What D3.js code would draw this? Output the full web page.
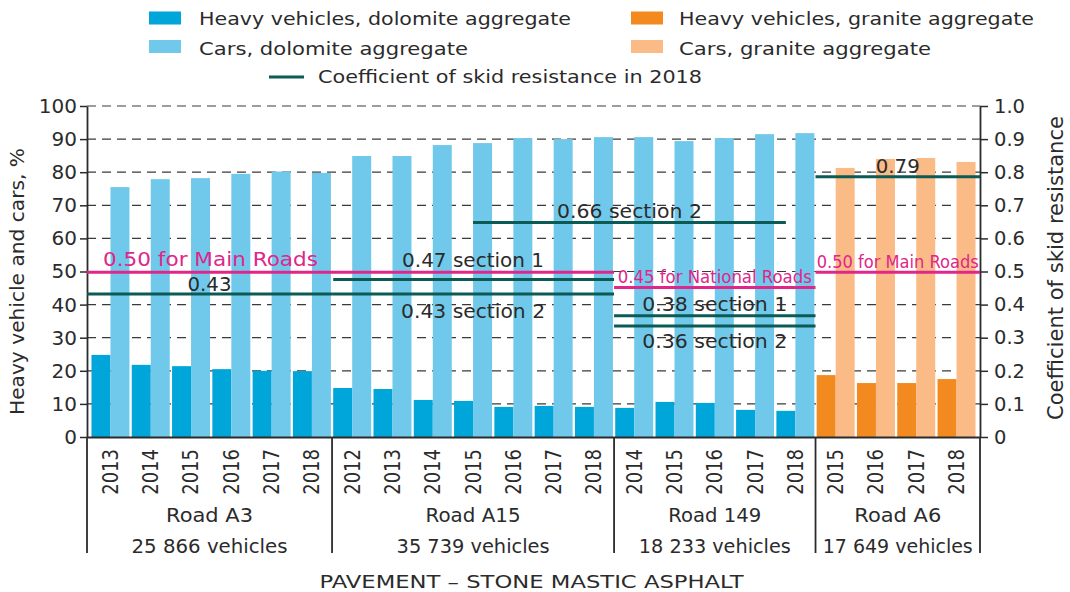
<!DOCTYPE html>
<html><head><meta charset="utf-8">
<script src="https://cdn.jsdelivr.net/npm/d3@7"></script>
<style>
body{margin:0;background:#fff}
svg{display:block}
text{font-family:"DejaVu Sans",sans-serif;fill:#2b2b2b}
text.cond{font-family:"DejaVu Sans Condensed","DejaVu Sans",sans-serif;font-stretch:condensed}
</style>
</head><body>
<svg id="c" width="1070" height="592"></svg>
<script>
// ---------------- data ----------------
const roads = ["Road A3", "Road A15", "Road 149", "Road A6"];
const roadVehicles = ["25 866 vehicles", "35 739 vehicles", "18 233 vehicles", "17 649 vehicles"];
const roadAggregate = ["dolomite", "dolomite", "dolomite", "granite"];
const roadYears = [
  [2013, 2014, 2015, 2016, 2017, 2018],
  [2012, 2013, 2014, 2015, 2016, 2017, 2018],
  [2014, 2015, 2016, 2017, 2018],
  [2015, 2016, 2017, 2018]
];
const heavyShare = [
  [24.8, 21.8, 21.4, 20.5, 20.0, 19.9],
  [14.8, 14.5, 11.2, 10.9, 9.1, 9.4, 9.1],
  [8.8, 10.6, 10.3, 8.2, 7.9],
  [18.7, 16.3, 16.3, 17.5]
];
const carShare = [
  [75.5, 77.9, 78.2, 79.5, 80.2, 79.8],
  [84.9, 84.9, 88.2, 88.8, 90.3, 90.0, 90.6],
  [90.6, 89.4, 90.3, 91.5, 91.8],
  [81.3, 84.0, 84.3, 83.1]
];
const leftTicks = [0, 10, 20, 30, 40, 50, 60, 70, 80, 90, 100];
const rightTicks = [0, 0.1, 0.2, 0.3, 0.4, 0.5, 0.6, 0.7, 0.8, 0.9, 1.0];
const skidLines = [
  {label: "0.43", value: 0.432, from: "Road A3", to: "Road A3"},
  {label: "0.43 section 2", value: 0.432, from: "Road A15", to: "Road A15"},
  {label: "0.47 section 1", value: 0.476, from: "Road A15 2012", fromAt: 0, to: "Road A15"},
  {label: "0.66 section 2", value: 0.648, from: "Road A15 2015", fromAt: 0.5, to: "Road 149 2018", toAt: 0.25},
  {label: "0.38 section 1", value: 0.366, from: "Road 149", to: "Road 149"},
  {label: "0.36 section 2", value: 0.335, from: "Road 149", to: "Road 149"},
  {label: "0.79", value: 0.786, from: "Road A6", to: "Road A6"}
];
const limitLines = [
  {label: "0.50 for Main Roads", value: 0.498, from: "Road A3", to: "Road A15"},
  {label: "0.45 for National Roads", value: 0.452, from: "Road 149", to: "Road 149"},
  {label: "0.50 for Main Roads", value: 0.498, from: "Road A6", to: "Road A6"}
];
const legendItems = [
  {label: "Heavy vehicles, dolomite aggregate", kind: "heavy", agg: "dolomite"},
  {label: "Cars, dolomite aggregate", kind: "cars", agg: "dolomite"},
  {label: "Heavy vehicles, granite aggregate", kind: "heavy", agg: "granite"},
  {label: "Cars, granite aggregate", kind: "cars", agg: "granite"},
  {label: "Coefficient of skid resistance in 2018", kind: "line"}
];
const yTitleLeft = "Heavy vehicle and cars, %";
const yTitleRight = "Coefficient of skid resistance";
const xTitle = "PAVEMENT – STONE MASTIC ASPHALT";

// ---------------- styles / layout ----------------
const colors = {
  dolomite: {heavy: "#00a5d9", cars: "#70c9ea"},
  granite: {heavy: "#f28a20", cars: "#fbbb86"},
  skid: "#0b5a54", limit: "#e0268a", ink: "#2b2b2b", grid: "#3a3a3a"
};
const skidLabelLayout = [
  {dy: -3, len: 44}, {dy: 24, len: 144}, {dy: -12, len: 142}, {dy: -5, len: 145},
  {dy: -5, len: 145}, {dy: 22, len: 145}, {dy: -4, len: 44}
];
const limitLabelLayout = [
  {anchor: "start", dx: 16, dy: -6.5, len: 215, size: 19.5, cls: ""},
  {anchor: "middle", dx: 0, dy: -4, len: 194, size: 18, cls: "cond"},
  {anchor: "middle", dx: 0, dy: -4.6, len: 162, size: 18, cls: "cond"}
];
const legendLayout = [
  {x: 149, y: 11.5, tx: 199, ty: 24.5, len: 372},
  {x: 149, y: 40, tx: 199, ty: 55, len: 269},
  {x: 631, y: 11.5, tx: 679, ty: 24.5, len: 355},
  {x: 631, y: 40, tx: 679, ty: 55, len: 252},
  {x: 269, y: 77, tx: 318, ty: 82.5, len: 384}
];
const roadLabelLen = [87, 95, 93, 87];
const vehicleLabelLen = [156, 153, 152, 150];

// ---------------- build ----------------
const rows = [];
roads.forEach((r, i) => roadYears[i].forEach((yr, j) => rows.push({
  road: r, ri: i, year: yr, key: r + " " + yr,
  heavy: heavyShare[i][j], cars: carShare[i][j], agg: roadAggregate[i]
})));
const byKey = new Map(rows.map(d => [d.key, d]));

const L = 87, R = 980, B = 437, T = 106;
const svg = d3.select("#c");
const x = d3.scaleBand().domain(rows.map(d => d.key)).range([L, R]).paddingInner(0.057).paddingOuter(0.111);
const y = d3.scaleLinear().domain([0, 100]).range([B, T]);
const yR = d3.scaleLinear().domain([0, 1]).range([B, T]);
const bw = x.bandwidth();
const gap = x.step() * x.paddingInner();

function regionEdge(road, side) {
  const ri = roads.indexOf(road);
  const ks = rows.filter(d => d.ri === ri).map(d => d.key);
  if (side === "left") return ri === 0 ? L : x(ks[0]) - gap / 2;
  return ri === roads.length - 1 ? R : x(ks[ks.length - 1]) + bw + gap / 2;
}
function spanX(key, at, side) {
  if (byKey.has(key)) return x(key) + (at || 0) * bw;
  return regionEdge(key, side);
}

// gridlines
svg.append("g").selectAll("line").data(leftTicks.filter(t => t > 0)).join("line")
  .attr("x1", L).attr("x2", R).attr("y1", d => y(d)).attr("y2", d => y(d))
  .attr("stroke", colors.grid).attr("stroke-width", 1.2).attr("stroke-dasharray", "9,6");

// bars
const g = svg.append("g").selectAll("g").data(rows).join("g");
g.append("rect").attr("x", d => x(d.key)).attr("width", bw / 2)
  .attr("y", d => y(d.heavy)).attr("height", d => y(0) - y(d.heavy))
  .attr("fill", d => colors[d.agg].heavy);
g.append("rect").attr("x", d => x(d.key) + bw / 2).attr("width", bw / 2)
  .attr("y", d => y(d.cars)).attr("height", d => y(0) - y(d.cars))
  .attr("fill", d => colors[d.agg].cars);

// axes
const axL = svg.append("g").attr("transform", `translate(${L},0)`)
  .call(d3.axisLeft(y).tickValues(leftTicks).tickSize(7).tickSizeOuter(0).tickPadding(3));
const axR = svg.append("g").attr("transform", `translate(${R},0)`)
  .call(d3.axisRight(yR).tickValues(rightTicks).tickSize(8).tickSizeOuter(0).tickPadding(6)
    .tickFormat(d => d === 0 ? "0" : d3.format(".1f")(d)));
const axB = svg.append("g").attr("transform", `translate(0,${B})`)
  .call(d3.axisBottom(x).tickSize(0).tickSizeOuter(0).tickFormat(k => byKey.get(k).year));
[axL, axR, axB].forEach(a => {
  a.select(".domain").attr("stroke", colors.ink).attr("stroke-width", 1.8);
  a.selectAll(".tick line").attr("stroke", colors.ink).attr("stroke-width", 1.5);
  a.selectAll(".tick text").attr("fill", colors.ink).style("font-family", '"DejaVu Sans",sans-serif');
});
axL.selectAll(".tick text").style("font-size", "20px");
axR.selectAll(".tick text").style("font-size", "19.5px");
axB.selectAll(".tick text").style("font-size", "18px")
  .attr("y", null).attr("x", null).attr("dy", "0.36em")
  .attr("text-anchor", "end")
  .attr("transform", "translate(0,12) scale(1.15,1) rotate(-90)");

// region separators
const seps = roads.map(r => regionEdge(r, "left")).concat([R]);
svg.append("g").selectAll("line").data(seps).join("line")
  .attr("x1", d => d).attr("x2", d => d).attr("y1", B).attr("y2", 553)
  .attr("stroke", colors.ink).attr("stroke-width", 1.8);

// road labels
svg.append("g").selectAll("text").data(roads).join("text")
  .attr("x", (r) => (regionEdge(r, "left") + regionEdge(r, "right")) / 2).attr("y", 522)
  .attr("text-anchor", "middle").style("font-size", "20px")
  .attr("textLength", (r, i) => roadLabelLen[i]).attr("lengthAdjust", "spacingAndGlyphs")
  .text(d => d);
svg.append("g").selectAll("text").data(roadVehicles).join("text")
  .attr("x", (v, i) => (regionEdge(roads[i], "left") + regionEdge(roads[i], "right")) / 2).attr("y", 553)
  .attr("text-anchor", "middle").style("font-size", "20px")
  .attr("textLength", (v, i) => vehicleLabelLen[i]).attr("lengthAdjust", "spacingAndGlyphs")
  .text(d => d);

// x title
svg.append("text").attr("x", (L + R) / 2 - 2).attr("y", 588).attr("text-anchor", "middle")
  .style("font-size", "18.5px").attr("textLength", 424).attr("lengthAdjust", "spacingAndGlyphs")
  .text(xTitle);

// y titles
svg.append("text").attr("transform", "translate(24,281.5) rotate(-90)").attr("text-anchor", "middle")
  .style("font-size", "20px").attr("textLength", 267).attr("lengthAdjust", "spacingAndGlyphs").text(yTitleLeft);
svg.append("text").attr("transform", "translate(1063,268) rotate(-90)").attr("text-anchor", "middle")
  .style("font-size", "20.5px").attr("textLength", 304).attr("lengthAdjust", "spacingAndGlyphs").text(yTitleRight);

// limit lines (pink)
const limG = svg.append("g");
limitLines.forEach((d, i) => {
  const x1 = spanX(d.from, d.fromAt, "left"), x2 = spanX(d.to, d.toAt, "right");
  limG.append("line").attr("x1", x1).attr("x2", x2).attr("y1", yR(d.value)).attr("y2", yR(d.value))
    .attr("stroke", colors.limit).attr("stroke-width", 3);
  const lay = limitLabelLayout[i];
  limG.append("text").attr("class", lay.cls)
    .attr("x", lay.anchor === "start" ? x1 + lay.dx : (x1 + x2) / 2)
    .attr("y", yR(d.value) + lay.dy).attr("text-anchor", lay.anchor)
    .style("font-size", lay.size + "px").style("fill", colors.limit)
    .attr("textLength", lay.len).attr("lengthAdjust", "spacingAndGlyphs")
    .text(d.label);
});

// skid resistance lines (teal)
const skG = svg.append("g");
skidLines.forEach((d, i) => {
  const x1 = spanX(d.from, d.fromAt, "left"), x2 = spanX(d.to, d.toAt, "right");
  skG.append("line").attr("x1", x1).attr("x2", x2).attr("y1", yR(d.value)).attr("y2", yR(d.value))
    .attr("stroke", colors.skid).attr("stroke-width", 3);
});
skidLines.forEach((d, i) => {
  const x1 = spanX(d.from, d.fromAt, "left"), x2 = spanX(d.to, d.toAt, "right");
  const lay = skidLabelLayout[i];
  let cx = (x1 + x2) / 2;
  if (d.label === "0.43 section 2" || d.label === "0.47 section 1") cx = (regionEdge("Road A15", "left") + regionEdge("Road A15", "right")) / 2;
  skG.append("text").attr("x", cx).attr("y", yR(d.value) + lay.dy).attr("text-anchor", "middle")
    .style("font-size", "20px").attr("textLength", lay.len).attr("lengthAdjust", "spacingAndGlyphs")
    .text(d.label);
});

// legend
const lg = svg.append("g");
legendItems.forEach((d, i) => {
  const p = legendLayout[i];
  if (d.kind === "line") {
    lg.append("line").attr("x1", p.x).attr("x2", p.x + 35).attr("y1", p.y).attr("y2", p.y)
      .attr("stroke", colors.skid).attr("stroke-width", 3);
  } else {
    lg.append("rect").attr("x", p.x).attr("y", p.y).attr("width", 32).attr("height", 13)
      .attr("fill", colors[d.agg][d.kind]);
  }
  lg.append("text").attr("x", p.tx).attr("y", p.ty).style("font-size", "18px")
    .attr("textLength", p.len).attr("lengthAdjust", "spacingAndGlyphs").text(d.label);
});
</script>
</body></html>
